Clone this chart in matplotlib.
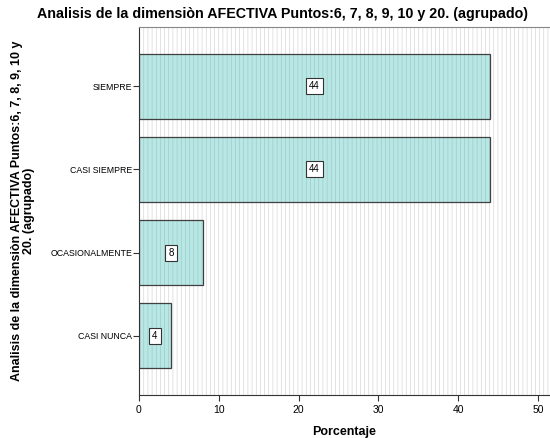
import matplotlib
matplotlib.use("Agg")
import matplotlib.pyplot as plt
from matplotlib.patches import Rectangle

categories = ["CASI NUNCA", "OCASIONALMENTE", "CASI SIEMPRE", "SIEMPRE"]
values = [4, 8, 44, 44]
xticks = [0, 10, 20, 30, 40, 50]

plt.rcParams['font.family'] = ['Liberation Sans', 'DejaVu Sans']
plt.rcParams['hatch.linewidth'] = 0.45

fig = plt.figure(figsize=(5.5, 4.38), dpi=100)
ax = fig.add_axes([0.2527, 0.0982, 0.7473, 0.8402])

ax.set_xlim(0, 51.5)
ax.set_ylim(-0.71, 3.71)

bg = Rectangle((0, 0), 1, 1, transform=ax.transAxes, facecolor='white',
               edgecolor='#d2d2d2', linewidth=0, hatch='||||', zorder=0)
ax.add_patch(bg)

ypos = list(range(len(categories)))
ax.barh(ypos, values, height=0.78, color='#b8e8e5', edgecolor='#9ec6c4',
        linewidth=0, hatch='||||', zorder=2)
ax.barh(ypos, values, height=0.78, fill=False, edgecolor='#404040',
        linewidth=0.9, zorder=2.5)

for y, v in zip(ypos, values):
    ax.text(v / 2, y, str(v), ha='center', va='center', fontsize=7,
            bbox=dict(boxstyle='square,pad=0.3', facecolor='white',
                      edgecolor='#333333', linewidth=0.8), zorder=3)

ax.set_yticks(ypos)
ax.set_yticklabels(categories, fontsize=6.3)
ax.set_xticks(xticks)
ax.set_xticklabels([str(t) for t in xticks], fontsize=7.5)
ax.tick_params(axis='y', length=4, width=0.8, color='#333333', pad=1)
ax.tick_params(axis='x', length=4, width=0.8, color='#333333', pad=3)

ax.spines['right'].set_visible(False)
ax.spines['top'].set_color('#888888')
ax.spines['left'].set_color('#333333')
ax.spines['bottom'].set_color('#333333')

ax.set_xlabel('Porcentaje', fontsize=9, fontweight='bold', labelpad=8)
ax.set_ylabel('Analisis de la dimensiòn AFECTIVA Puntos:6, 7, 8, 9, 10 y\n20. (agrupado)',
              fontsize=9, fontweight='bold', linespacing=0.95)
ax.yaxis.set_label_coords(-0.254, 0.5)
fig.suptitle('Analisis de la dimensiòn AFECTIVA Puntos:6, 7, 8, 9, 10 y 20. (agrupado)',
             x=0.513, y=0.985, fontsize=10.3, fontweight='bold')

fig.savefig('out.png', dpi=100)
